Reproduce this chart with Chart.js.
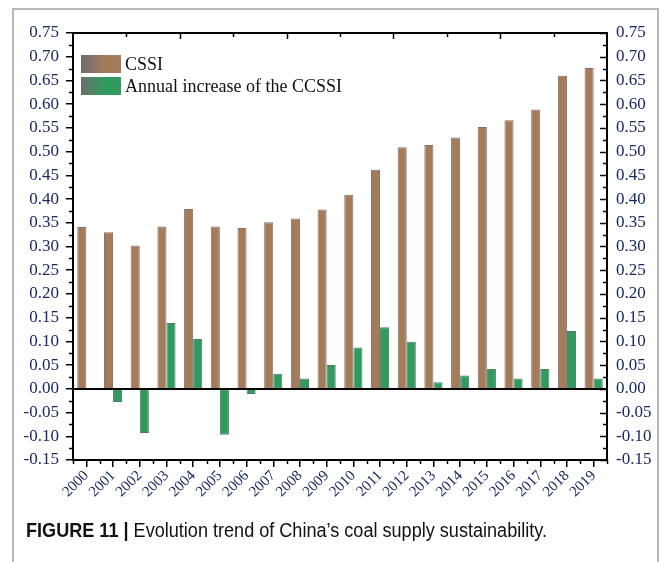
<!DOCTYPE html>
<html>
<head>
<meta charset="utf-8">
<script src="https://cdn.jsdelivr.net/npm/chart.js@4.4.1/dist/chart.umd.min.js"></script>
<style>
  html, body { margin: 0; padding: 0; background: #fff; }
  #wrap { position: relative; width: 665px; height: 562px; overflow: hidden; }
  #frame { position: absolute; left: 12px; top: 8px; width: 647px; height: 600px;
           border: 2px solid #b8b8b8; box-sizing: border-box; }
  #chart { position: absolute; left: 0; top: 0; }
  #caption { position: absolute; left: 26px; top: 519px; white-space: nowrap;
             font-family: "Liberation Sans", Arial, sans-serif; font-size: 20px;
             line-height: 22px; color: #111; transform-origin: 0 0; }
  #caption b { font-weight: bold; }
</style>
</head>
<body>
<div id="wrap">
  <div id="frame"></div>
  <canvas id="chart" width="665" height="562"></canvas>
  <div id="caption"><b>FIGURE 11 |</b> Evolution trend of China’s coal supply sustainability.</div>
</div>
<script>
// Years on the category axis
const years = ['2000','2001','2002','2003','2004','2005','2006','2007','2008','2009',
               '2010','2011','2012','2013','2014','2015','2016','2017','2018','2019'];
// Coal supply sustainability index
const cssi = [0.341, 0.330, 0.302, 0.342, 0.379, 0.342, 0.339, 0.351, 0.359, 0.378,
              0.409, 0.462, 0.509, 0.514, 0.530, 0.552, 0.566, 0.589, 0.660, 0.676];
// Year-on-year change of the index
const annualIncrease = [0, -0.028, -0.093, 0.139, 0.105, -0.097, -0.011, 0.032, 0.022, 0.050,
                        0.087, 0.130, 0.099, 0.014, 0.028, 0.042, 0.022, 0.042, 0.122, 0.022];
// Value axis range
const yMin = -0.15, yMax = 0.75, yStep = 0.05;

const BROWN = '#a47b5b', GREEN = '#2f9b5e';
const INK = '#1a2a62';
const SERIF = '"Liberation Serif", "Times New Roman", serif';

// Minor ticks, inward ticks on the mirrored axes, zero line and in-plot legend
const decorations = {
  id: 'decorations',
  afterDatasetsDraw(chart) {
    const { ctx, chartArea: a, scales } = chart;
    const x = scales.x, y = scales.y;
    ctx.save();
    ctx.strokeStyle = '#000';
    ctx.lineWidth = 2;
    // zero line
    const y0 = Math.round(y.getPixelForValue(0));
    ctx.beginPath(); ctx.moveTo(a.left, y0); ctx.lineTo(a.right, y0); ctx.stroke();
    // top border
    ctx.beginPath(); ctx.moveTo(a.left - 1, a.top); ctx.lineTo(a.right + 1, a.top); ctx.stroke();

    ctx.lineWidth = 1.5;
    // y minor ticks (left outward, right inward) and right major ticks
    for (let k = 0; k <= Math.round((yMax - yMin) / (yStep / 2)); k++) {
      const v = yMin + k * yStep / 2;
      const py = Math.round(y.getPixelForValue(v)) + 0.5;
      const major = k % 2 === 0;
      if (!major) {
        ctx.beginPath(); ctx.moveTo(a.left - 4, py); ctx.lineTo(a.left, py); ctx.stroke();
      }
      const len = major ? 7 : 4;
      ctx.beginPath(); ctx.moveTo(a.right - len, py); ctx.lineTo(a.right, py); ctx.stroke();
    }
    // x minor ticks at category boundaries
    const half = (x.getPixelForValue(1) - x.getPixelForValue(0)) / 2;
    for (let i = 0; i <= years.length; i++) {
      const px = Math.round(x.getPixelForValue(0) - half + i * 2 * half) + 0.5;
      ctx.beginPath(); ctx.moveTo(px, a.bottom); ctx.lineTo(px, a.bottom + 4); ctx.stroke();
      if (i % 2 === 0 && i > 0 && i < years.length) {
        const len = (i % 4 === 0) ? 6 : 4;
        ctx.beginPath(); ctx.moveTo(px, a.top); ctx.lineTo(px, a.top + len); ctx.stroke();
      }
    }

    // legend
    const sw = 40, sh = 18;
    chart.data.datasets.forEach((ds, i) => {
      const lx = a.left + 8, ly = a.top + 22 + i * 22;
      const g = ctx.createLinearGradient(lx, 0, lx + sw, 0);
      g.addColorStop(0, '#6d6d6d');
      g.addColorStop(0.6, ds.backgroundColor);
      g.addColorStop(1, ds.backgroundColor);
      ctx.fillStyle = g;
      ctx.fillRect(lx, ly, sw, sh);
      ctx.fillStyle = '#111';
      ctx.font = '18px ' + SERIF;
      ctx.textBaseline = 'middle';
      ctx.textAlign = 'left';
      ctx.fillText(ds.label, lx + sw + 4, ly + sh / 2 + 1);
    });
    ctx.restore();
  }
};

const yTicks = {
  min: yMin, max: yMax,
  ticks: {
    stepSize: yStep,
    color: INK,
    font: { family: SERIF, size: 17 },
    callback: v => Number(v).toFixed(2)
  }
};

new Chart(document.getElementById('chart'), {
  type: 'bar',
  data: {
    labels: years,
    datasets: [
      { label: 'CSSI', data: cssi, backgroundColor: BROWN,
        borderColor: '#857064', borderWidth: 1, yAxisID: 'y' },
      { label: 'Annual increase of the CCSSI', data: annualIncrease, backgroundColor: GREEN,
        borderColor: '#4f7d62', borderWidth: 1, yAxisID: 'y' }
    ]
  },
  options: {
    responsive: false,
    animation: false,
    devicePixelRatio: 1,
    categoryPercentage: 0.68,
    barPercentage: 1.0,
    layout: { padding: { top: 33, left: 0, right: 0, bottom: 0 } },
    plugins: { legend: { display: false }, tooltip: { enabled: false } },
    scales: {
      x: {
        offset: true,
        grid: { offset: false, drawOnChartArea: false, color: '#000', lineWidth: 1.5, tickLength: 7 },
        border: { color: '#000', width: 2 },
        ticks: { autoSkip: false, maxRotation: 45, minRotation: 45, padding: 0,
                 color: INK, font: { family: SERIF, size: 15 } },
        afterFit: s => { s.height = 102; }
      },
      y: Object.assign({}, yTicks, {
        position: 'left',
        grid: { drawOnChartArea: false, color: '#000', lineWidth: 1.5, tickLength: 7 },
        border: { color: '#000', width: 2 },
        ticks: Object.assign({}, yTicks.ticks, { padding: 7 }),
        afterFit: s => { s.width = 73; }
      }),
      y2: Object.assign({}, yTicks, {
        position: 'right',
        grid: { drawOnChartArea: false, drawTicks: false },
        border: { color: '#000', width: 2 },
        ticks: Object.assign({}, yTicks.ticks, { padding: 9 }),
        afterFit: s => { s.width = 58; }
      })
    }
  },
  plugins: [decorations]
});

// fit the caption to the frame's text column
const cap = document.getElementById('caption');
const w = cap.getBoundingClientRect().width;
cap.style.transform = 'scaleX(' + (521 / w) + ')';
</script>
</body>
</html>
